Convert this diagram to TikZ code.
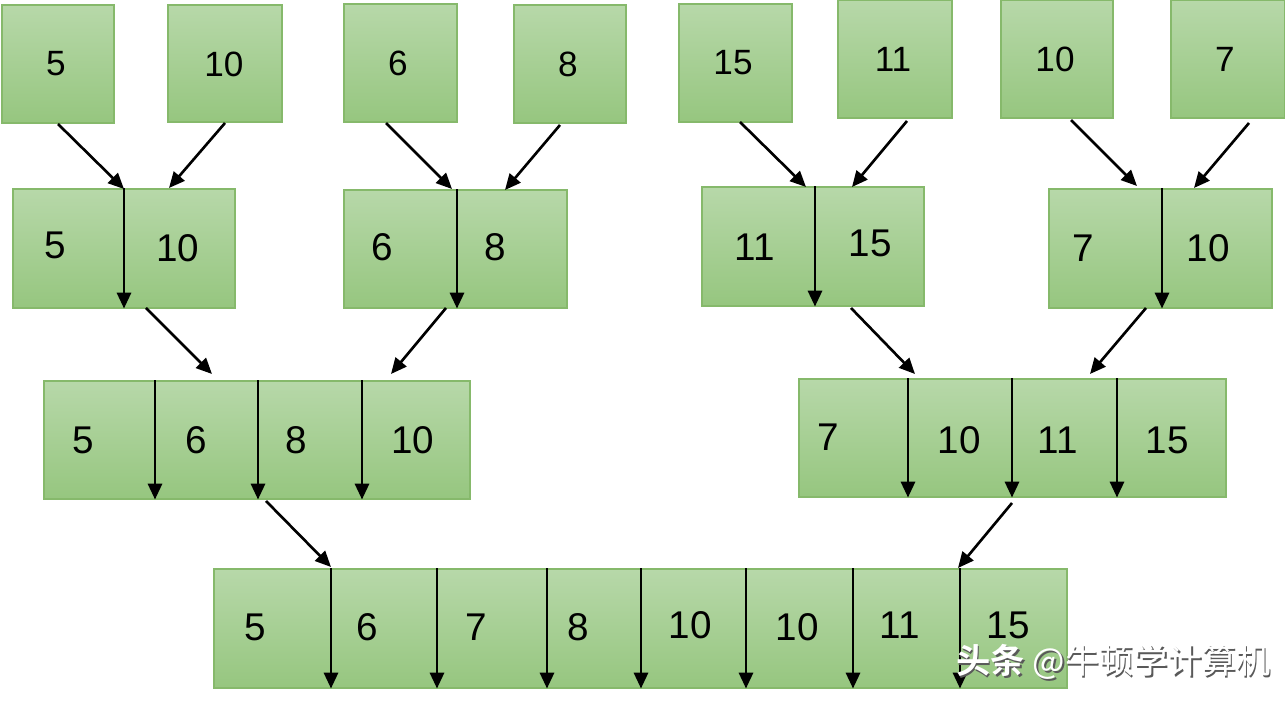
\documentclass[tikz,border=0pt]{standalone}
\usepackage{fontspec}
\setmainfont{Liberation Sans}
\newfontfamily\cjk{Noto Sans CJK SC}
\newfontfamily\cjkb{Noto Sans CJK SC Bold}
\usetikzlibrary{arrows.meta,fit}
\definecolor{gtop}{HTML}{B7D8A9}
\definecolor{gbot}{HTML}{96C67F}
\definecolor{gline}{HTML}{86B96B}
\begin{document}
\begin{tikzpicture}[x=0.02cm,y=-0.02cm,
  box/.style={draw=gline, line width=0.6pt, top color=gtop, bottom color=gbot, inner sep=0pt},
  num/.style={font=\fontsize{22}{22}\selectfont, inner sep=0pt},
  topnum/.style={font=\fontsize{20}{20}\selectfont, inner sep=0pt},
  arr/.style={line width=1.5pt, -{Triangle[length=9pt,width=8pt]}},
  wmfont/.style={font=\fontsize{19.5}{19.5}\selectfont, inner sep=0pt}]
\useasboundingbox (0,0) rectangle (1285,702);
% ---- row 1
\node[box, fit={(2,5) (114,123)}] (t1) {};
\node[box, fit={(168,5) (282,122)}] (t2) {};
\node[box, fit={(344,4) (457,122)}] (t3) {};
\node[box, fit={(514,5) (626,123)}] (t4) {};
\node[box, fit={(679,4) (792,122)}] (t5) {};
\node[box, fit={(838,0) (952,118)}] (t6) {};
\node[box, fit={(1001,0) (1113,118)}] (t7) {};
\node[box, fit={(1171,0) (1285,118)}] (t8) {};
\node[topnum] (n1) at (56,64) {5};
\node[topnum] (n2) at (224,64) {10};
\node[topnum] (n3) at (398,63) {6};
\node[topnum] (n4) at (568,64) {8};
\node[topnum] (n5) at (733,63) {15};
\node[topnum] (n6) at (893,59) {11};
\node[topnum] (n7) at (1055,59) {10};
\node[topnum] (n8) at (1225,59) {7};
% ---- row 2
\node[box, fit={(13,189) (235,308)}] (A) {};
\node[box, fit={(344,190) (567,308)}] (B) {};
\node[box, fit={(702,187) (924,306)}] (C) {};
\node[box, fit={(1049,189) (1272,308)}] (D) {};
\node[num] (a1) at (55,245) {5};
\node[num] (a2) at (178,248) {10};
\node[num] (b1) at (382,247) {6};
\node[num] (b2) at (495,247) {8};
\node[num] (c1) at (755,247) {11};
\node[num] (c2) at (870,243) {15};
\node[num] (d1) at (1083,248) {7};
\node[num] (d2) at (1208,248) {10};
% ---- row 3
\node[box, fit={(44,381) (470,499)}] (E) {};
\node[box, fit={(799,379) (1226,497)}] (F) {};
\node[num] (e1) at (83,440) {5};
\node[num] (e2) at (196,440) {6};
\node[num] (e3) at (296,440) {8};
\node[num] (e4) at (413,440) {10};
\node[num] (f1) at (828,437) {7};
\node[num] (f2) at (959,440) {10};
\node[num] (f3) at (1058,440) {11};
\node[num] (f4) at (1167,440) {15};
% ---- row 4
\node[box, fit={(214,569) (1067,688)}] (G) {};
\node[num] (g1) at (255,627) {5};
\node[num] (g2) at (367,627) {6};
\node[num] (g3) at (476,627) {7};
\node[num] (g4) at (578,627) {8};
\node[num] (g5) at (690,625) {10};
\node[num] (g6) at (797,627) {10};
\node[num] (g7) at (900,625) {11};
\node[num] (g8) at (1008,625) {15};
% ---- divider x positions
\foreach \n/\x in {dA/124, dB/457, dC/815, dD/1162,
                    dE1/155, dE2/258, dE3/362,
                    dF1/908, dF2/1012, dF3/1117,
                    dG1/331, dG2/437, dG3/547, dG4/641, dG5/746, dG6/853, dG7/960}
  \coordinate (\n) at (\x,0);
% dividers (vertical arrows)
\draw[arr] (A.north -| dA) -- (A.south -| dA);
\draw[arr] (B.north -| dB) -- (B.south -| dB);
\draw[arr] (C.north -| dC) -- (C.south -| dC);
\draw[arr] (D.north -| dD) -- (D.south -| dD);
\foreach \d in {dE1,dE2,dE3} \draw[arr] (E.north -| \d) -- (E.south -| \d);
\foreach \d in {dF1,dF2,dF3} \draw[arr] (F.north -| \d) -- (F.south -| \d);
\foreach \d in {dG1,dG2,dG3,dG4,dG5,dG6,dG7} \draw[arr] (G.north -| \d) -- (G.south -| \d);
% ---- merge arrows
\coordinate (s1) at (58,124);   \coordinate (s2) at (225,123);
\coordinate (s3) at (386,123);  \coordinate (s4) at (560,125);
\coordinate (s5) at (740,122);  \coordinate (s6) at (907,121);
\coordinate (s7) at (1071,120); \coordinate (s8) at (1249,123);
\coordinate (e1a) at (124,189); \coordinate (e2a) at (169,188);
\coordinate (e3a) at (452,189); \coordinate (e4a) at (505,190);
\coordinate (e5a) at (806,187); \coordinate (e6a) at (852,187);
\coordinate (e7a) at (1137,186);\coordinate (e8a) at (1194,188);
\draw[arr] (s1) -- (e1a); \draw[arr] (s2) -- (e2a);
\draw[arr] (s3) -- (e3a); \draw[arr] (s4) -- (e4a);
\draw[arr] (s5) -- (e5a); \draw[arr] (s6) -- (e6a);
\draw[arr] (s7) -- (e7a); \draw[arr] (s8) -- (e8a);
\coordinate (u1) at (146,308);  \coordinate (v1) at (212,374);
\coordinate (u2) at (446,308);  \coordinate (v2) at (391,374);
\coordinate (u3) at (851,308);  \coordinate (v3) at (915,374);
\coordinate (u4) at (1146,308); \coordinate (v4) at (1090,374);
\draw[arr] (u1) -- (v1); \draw[arr] (u2) -- (v2);
\draw[arr] (u3) -- (v3); \draw[arr] (u4) -- (v4);
\coordinate (p1) at (266,501);  \coordinate (q1) at (331,567);
\coordinate (p2) at (1012,503); \coordinate (q2) at (958,568);
\draw[arr] (p1) -- (q1); \draw[arr] (p2) -- (q2);
% ---- watermark
\node[wmfont, text=black!65] (wms) at (1115,663.5) {\cjkb 头条\cjk{} @牛顿学计算机};
\node[wmfont, text=white] (wm) at (1113.5,662) {\cjkb 头条\cjk{} @牛顿学计算机};
\end{tikzpicture}
\end{document}
